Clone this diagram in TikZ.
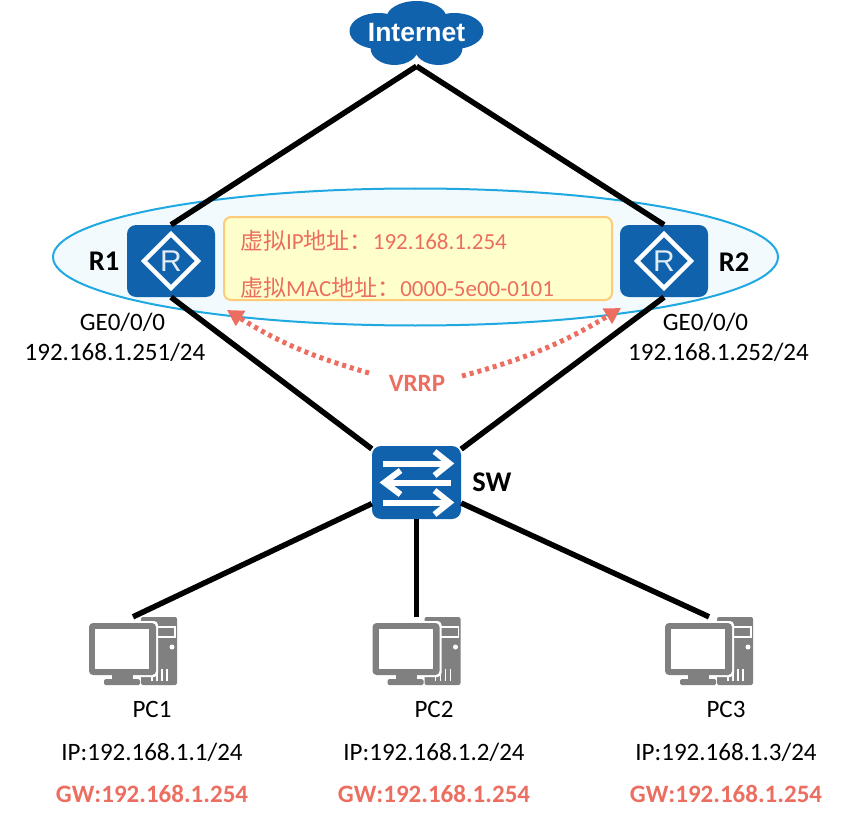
\documentclass[tikz,border=0pt]{standalone}
\usepackage{fontspec}
\setmainfont{Carlito}
\newfontfamily\cjk{Noto Sans CJK SC}
\newfontfamily\arialfont{Liberation Sans}
\usetikzlibrary{arrows.meta,shapes.geometric}
\definecolor{hwblue}{HTML}{1162AC}
\definecolor{hwred}{HTML}{EC6E60}
\definecolor{iconGray}{HTML}{808080}
\definecolor{zoneline}{HTML}{1FA9E0}
\definecolor{zonefill}{HTML}{F2FAFE}
\definecolor{boxline}{HTML}{FFCB78}
\definecolor{boxfill}{HTML}{FFFFCC}
\tikzset{
    link/.style={line width=5.5pt,black},
    vrrplink/.style={line width=5pt,hwred,dash pattern=on 4pt off 4pt,-{Triangle[length=16pt,width=17pt]}},
    txt/.style={font=\fontsize{25}{28}\selectfont,inner sep=0pt},
    boldtxt/.style={txt,font=\fontsize{28.5}{30}\selectfont\bfseries},
    gwtxt/.style={txt,font=\fontsize{25}{28}\selectfont\bfseries,text=hwred},
    vtxt/.style={inner sep=0pt,anchor=west,text=hwred,font=\fontsize{23}{26}\selectfont},
    routerbox/.style={
        fill=hwblue,rounded corners=9pt,minimum width=88pt,minimum height=72pt,inner sep=0pt,
        path picture={
            \draw[white,line width=4.5pt,sharp corners,shift={(path picture bounding box.center)}]
                (-27,0) -- (0,-27) -- (27,0) -- (0,27) -- cycle;
        }},
    routermark/.style={inner sep=0pt,text=white!88!hwblue,font=\arialfont\fontsize{30}{30}\selectfont},
    switchbox/.style={
        fill=hwblue,rounded corners=9pt,minimum width=89pt,minimum height=73pt,inner sep=0pt,
        path picture={
            \begin{scope}[shift={(path picture bounding box.center)},white,line width=6pt,sharp corners]
                \draw (-34,-19) -- (33,-19);
                \draw (18,-31) -- (33,-19) -- (18,-7);
                \draw (34,0) -- (-32,0);
                \draw (-16,-12) -- (-32,0) -- (-16,12);
                \draw (-34,20) -- (33,20);
                \draw (18,8) -- (33,20) -- (18,32);
            \end{scope}
        }},
    pcicon/.style={
        minimum width=88pt,minimum height=68pt,inner sep=0pt,
        path picture={
            \begin{scope}[shift={(path picture bounding box.center)}]
                \fill[iconGray,rounded corners=2pt] (8,-34) rectangle (44,34);
                \draw[white,line width=1.2pt] (24,-24) rectangle (42,-14);
                \fill[white] (39,-4) circle (2.5);
                \foreach \x in {19,24,29,34} {\draw[white,line width=1.5pt] (\x,18) -- (\x,30);}
                \fill[white,rounded corners=4pt] (-46,-30) rectangle (25,26);
                \fill[iconGray,rounded corners=4pt] (-44,-28) rectangle (23,24);
                \fill[white] (-38,-22) rectangle (16,18);
                \fill[iconGray] (-21,24) rectangle (0,28);
                \fill[iconGray,rounded corners=1.5pt] (-29,28) rectangle (7,34);
            \end{scope}
        }},
    cloudicon/.style={
        minimum width=134pt,minimum height=66pt,inner sep=0pt,
        path picture={
            \begin{scope}[shift={(path picture bounding box.center)},hwblue]
                \fill (0,0) ellipse (50 and 20);
                \fill (-38,-2) ellipse (29 and 18);
                \fill (38,-2) ellipse (29 and 18);
                \fill (0,-15) ellipse (30 and 17);
                \fill (-22,15) ellipse (24 and 17);
                \fill (22,15) ellipse (24 and 17);
            \end{scope}
        }}
}
\begin{document}
\begin{tikzpicture}[x=1pt,y=-1pt]
    \useasboundingbox (0,0) rectangle (852,824);

    \node (vipzone) [draw=zoneline,fill=zonefill,line width=2pt,ellipse,minimum width=725pt,minimum height=137pt,inner sep=0pt] at (415.5,257) {};
    \node (vipbox) [draw=boxline,fill=boxfill,line width=2pt,rounded corners=7pt,minimum width=388pt,minimum height=83pt,inner sep=0pt] at (418,258.5) {};
    \node (vip) [vtxt] at (240,241) {{\cjk 虚拟}IP{\cjk 地址：}192.168.1.254};
    \node (vmac) [vtxt] at (240,288) {{\cjk 虚拟}MAC{\cjk 地址：}0000-5e00-0101};

    \node (Internet) [cloudicon] at (416.5,33) {};
    \node (Internetname) [inner sep=0pt,text=white,font=\arialfont\bfseries\fontsize{26.5}{27}\selectfont] at (Internet) {Internet};
    \node (R1) [routerbox] at (171,261) {};
    \node (R1mark) [routermark] at (R1) {R};
    \node (R2) [routerbox] at (664,261) {};
    \node (R2mark) [routermark] at (R2) {R};
    \node (SW) [switchbox] at (416.5,482.5) {};
    \node (PC1) [pcicon] at (133,651) {};
    \node (PC2) [pcicon] at (416.5,651) {};
    \node (PC3) [pcicon] at (709,651) {};

    \draw[link] (Internet.south) -- (R1.north);
    \draw[link] (Internet.south) -- (R2.north);
    \draw[link] (R1.south) -- (SW);
    \draw[link] (R2.south) -- (SW);
    \draw[link] (SW) -- (PC1.north);
    \draw[link] (SW.south) -- (PC2.north);
    \draw[link] (SW) -- (PC3.north);

    \node (R1label) [boldtxt] at (104,261) {R1};
    \node (R2label) [boldtxt] at (734,262) {R2};
    \node (SWlabel) [boldtxt] at (492,482) {SW};
    \node (R1port) [txt] at (122.5,322) {GE0/0/0};
    \node (R1ip) [txt] at (115,352) {192.168.1.251/24};
    \node (R2port) [txt] at (705.5,322) {GE0/0/0};
    \node (R2ip) [txt] at (718.5,352) {192.168.1.252/24};

    \node (VRRP) [gwtxt] at (417,383) {VRRP};
    \coordinate (vrrpL) at (369,373);
    \coordinate (vrrpR) at (462,376);
    \coordinate (tipL) at (227,310);
    \coordinate (tipR) at (621,308);
    \draw[vrrplink] (vrrpL) to[bend left=8] (tipL);
    \draw[vrrplink] (vrrpR) to[bend right=8] (tipR);

    \node (PC1name) [txt] at (152,709) {PC1};
    \node (PC1ip) [txt] at (152,752) {IP:192.168.1.1/24};
    \node (PC1gw) [gwtxt] at (152,794) {GW:192.168.1.254};
    \node (PC2name) [txt] at (434,709) {PC2};
    \node (PC2ip) [txt] at (434,752) {IP:192.168.1.2/24};
    \node (PC2gw) [gwtxt] at (434,794) {GW:192.168.1.254};
    \node (PC3name) [txt] at (726,709) {PC3};
    \node (PC3ip) [txt] at (726,752) {IP:192.168.1.3/24};
    \node (PC3gw) [gwtxt] at (726,794) {GW:192.168.1.254};
\end{tikzpicture}
\end{document}
